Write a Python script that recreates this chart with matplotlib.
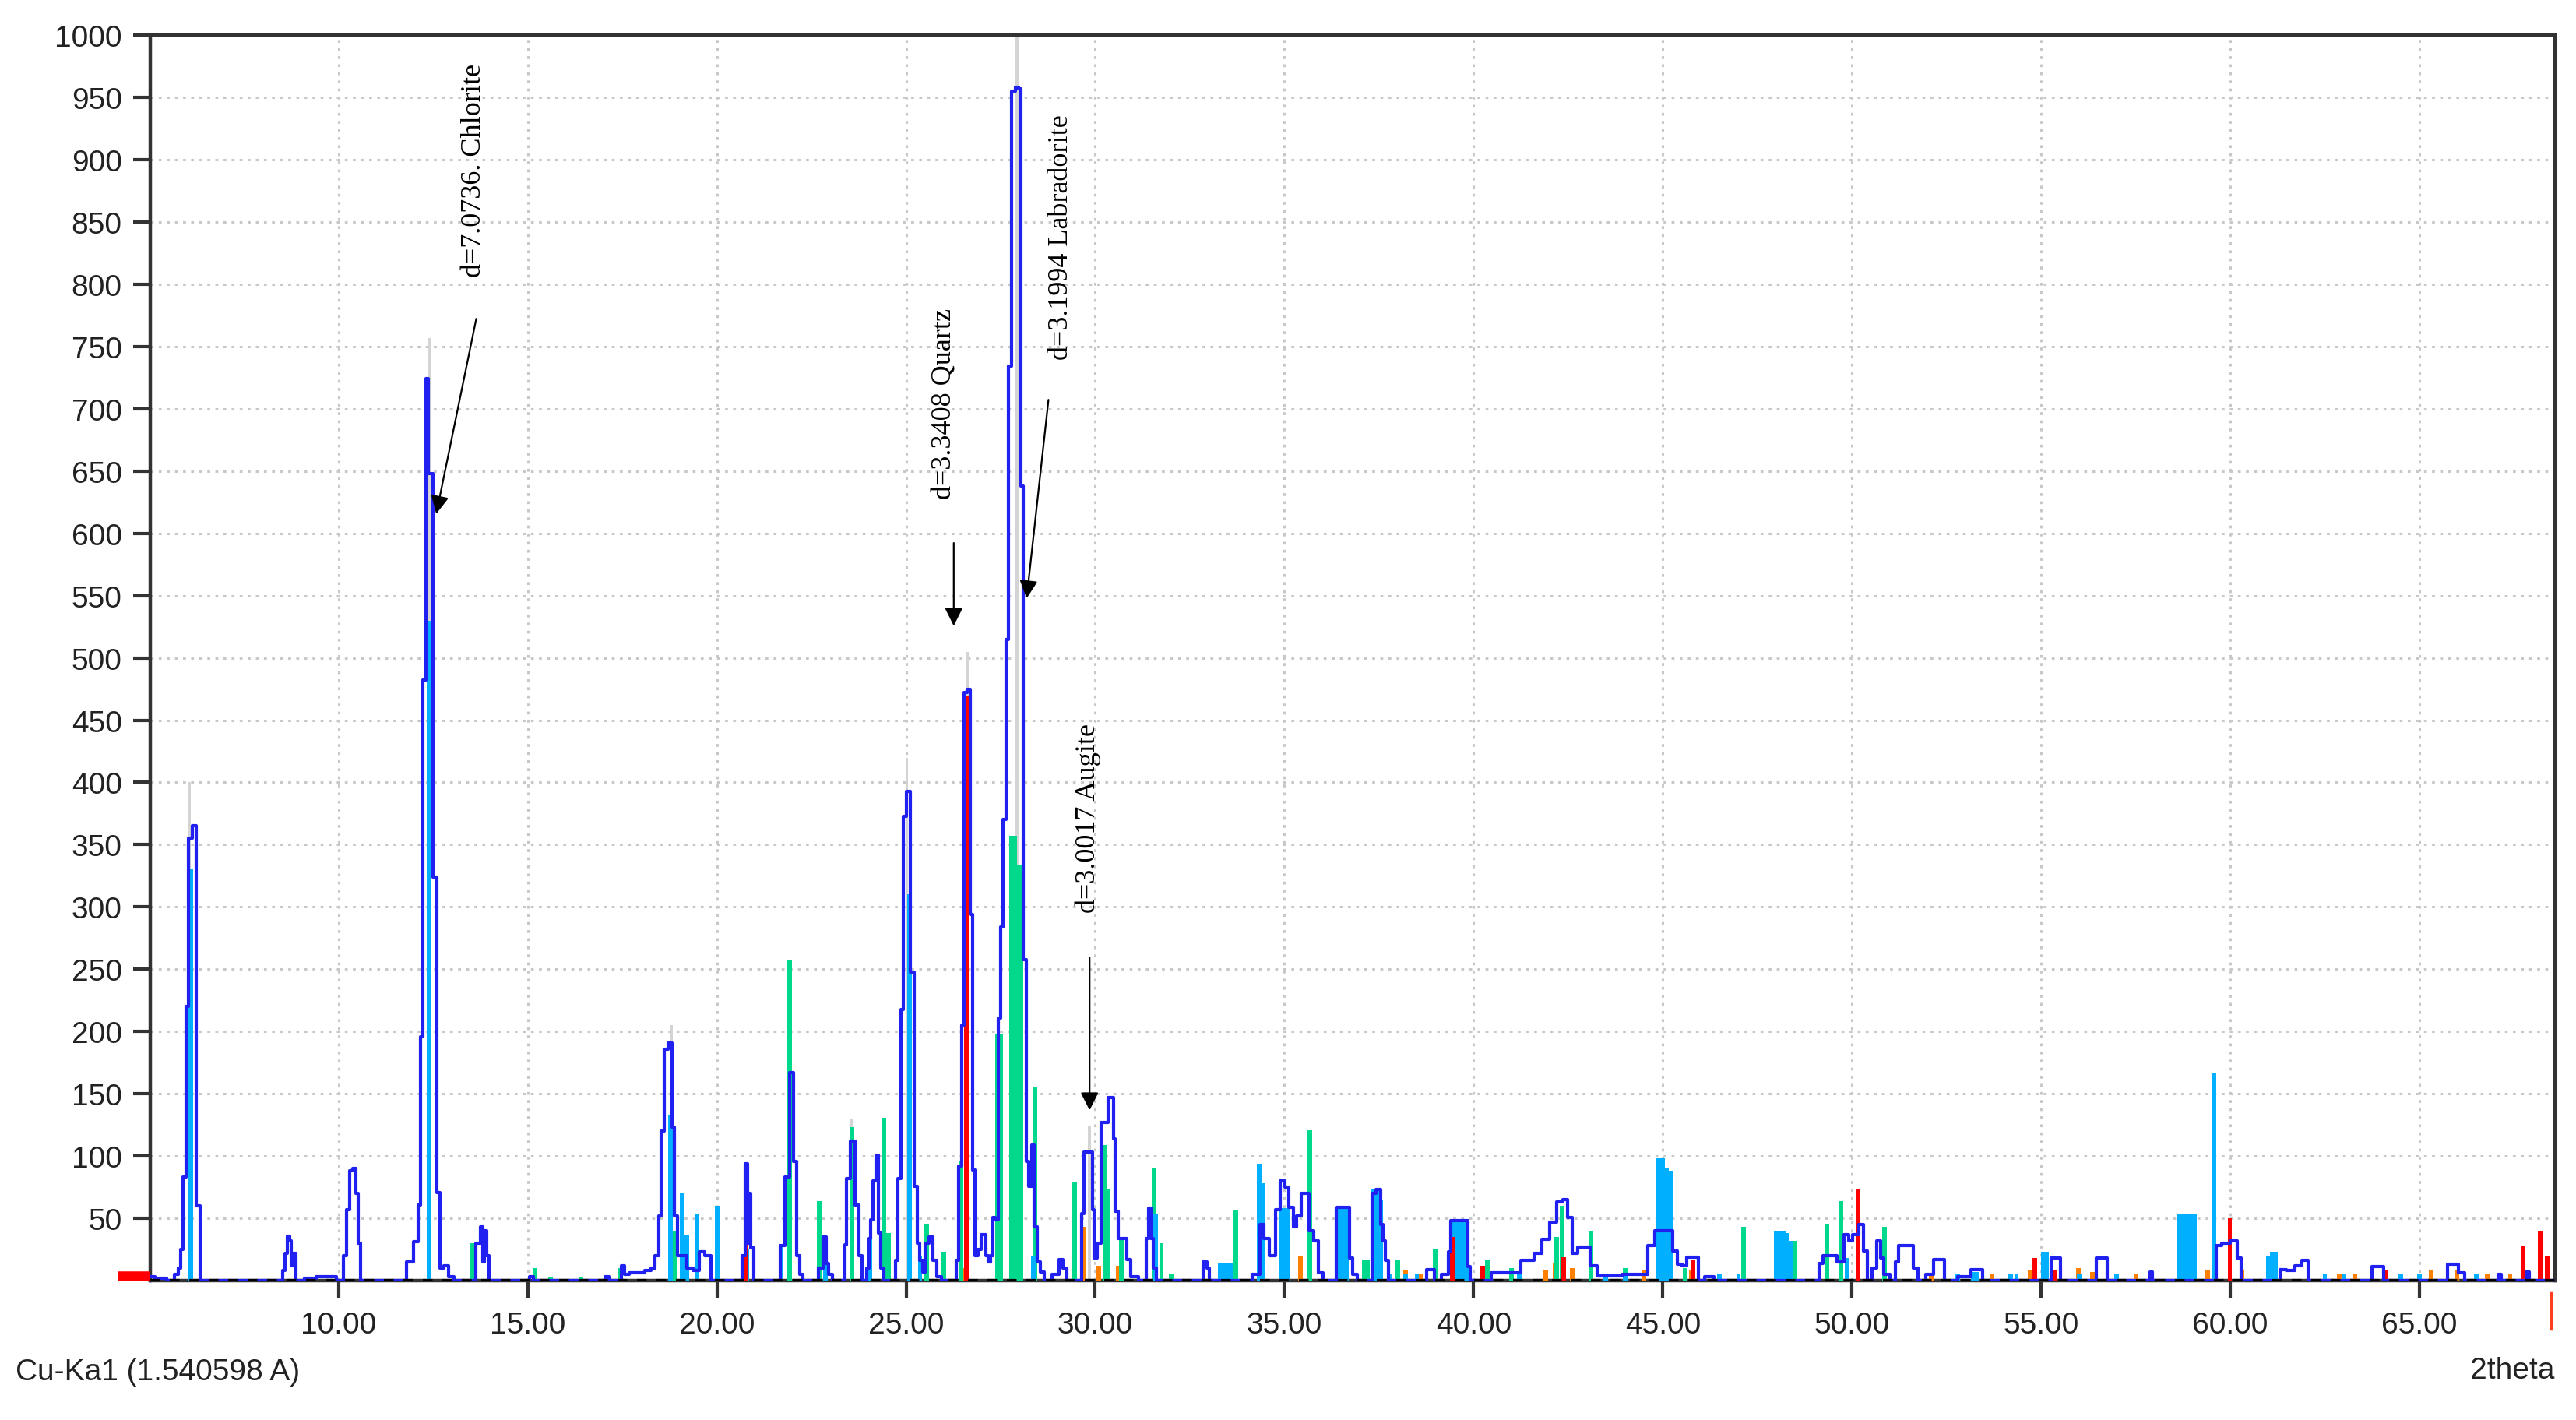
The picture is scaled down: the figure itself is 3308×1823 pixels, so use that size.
import numpy as np
import matplotlib
matplotlib.use('Agg')
import matplotlib.pyplot as plt

# measured pattern (blue step line)
tt_meas = [5.0, 5.3, 5.6, 5.72, 5.8, 5.86, 5.93, 6.0, 6.06, 6.2, 6.29, 6.37,
           7.5, 8.5, 8.56, 8.62, 8.68, 8.73, 8.78, 8.84, 8.9,
           9.3, 9.5, 9.8, 10.1, 10.16, 10.27, 10.33, 10.43, 10.49, 10.54, 10.62,
           11.7, 11.89, 12.06, 12.13, 12.2, 12.27, 12.33, 12.43, 12.55, 12.64, 12.72, 12.85, 12.98, 13.1,
           13.6, 13.66, 13.74, 13.78, 13.83, 13.88, 13.95, 14.02,
           15.0, 15.1, 15.2, 17.0, 17.1, 17.2,
           17.45, 17.52, 17.6, 17.75, 18.0, 18.2, 18.3, 18.42, 18.51, 18.56, 18.64, 18.78, 18.83,
           18.91, 18.99, 19.1, 19.3, 19.45, 19.6, 19.75, 19.95,
           20.6, 20.72, 20.78, 20.82, 20.86, 20.93, 21.0,
           21.6, 21.75, 21.84, 22.0, 22.06, 22.14, 22.24, 22.3,
           22.6, 22.75, 22.85, 22.92, 23.0, 23.1,
           23.35, 23.4, 23.45, 23.6, 23.72, 23.79, 23.9,
           24.0, 24.04, 24.1, 24.16, 24.24, 24.3, 24.36, 24.45,
           24.7, 24.75, 24.82, 24.89, 24.97, 25.06, 25.16, 25.27, 25.33, 25.4, 25.47, 25.54, 25.68, 25.75, 25.88, 26.0,
           26.3, 26.36, 26.43, 26.49, 26.57, 26.66, 26.72, 26.79, 26.86, 26.95, 27.0, 27.08, 27.14, 27.2, 27.27,
           27.33, 27.4, 27.46, 27.53, 27.6, 27.67, 27.74, 27.84, 27.93, 28.01, 28.05, 28.15, 28.22, 28.28,
           28.36, 28.42, 28.5, 28.59, 28.7,
           29.0, 29.1, 29.2, 29.3,
           29.6, 29.66, 29.76, 29.91, 29.95, 30.0, 30.1, 30.22, 30.3, 30.38, 30.46, 30.5, 30.56, 30.65, 30.79, 30.89, 31.0,
           31.3, 31.38, 31.45, 31.5, 31.55, 31.7,
           32.8, 32.9, 33.0, 33.05,
           34.0, 34.3, 34.4, 34.5, 34.72, 34.82, 34.97, 35.07, 35.18, 35.28, 35.38, 35.52, 35.62, 35.7, 35.85, 35.95, 36.1,
           36.35, 36.4, 36.7, 36.75, 36.85, 37.0,
           37.3, 37.35, 37.5, 37.58, 37.62, 37.7, 37.8,
           38.7, 38.8, 38.94, 39.0,
           39.3, 39.35, 39.45, 39.83, 39.87, 39.95,
           41.0, 41.5, 41.7, 41.9, 42.1, 42.29, 42.44, 42.53, 42.68, 42.83, 42.98, 43.17, 43.35, 44.5,
           44.71, 44.85, 45.2, 45.34, 45.45, 45.55, 45.7, 45.88, 46.0, 46.2, 46.5,
           49.1, 49.18, 49.3, 49.5, 49.7, 49.87, 49.95, 50.1, 50.26, 50.35, 50.45,
           50.6, 50.71, 50.8, 50.9, 51.1, 51.2, 51.26, 51.55, 51.7, 51.8,
           52.1, 52.2, 52.4, 52.5,
           53.1, 53.2, 53.4, 53.5,
           55.25, 55.3, 55.46, 55.55,
           56.4, 56.5, 56.7, 56.8,
           57.85, 57.9, 58.0,
           59.6, 59.66, 59.87, 60.13, 60.23, 60.35,
           61.3, 61.35, 61.6, 61.8, 62.0, 62.1,
           63.7, 63.8, 64.0, 64.1,
           65.7, 65.8, 65.95, 66.1, 66.3,
           67.05, 67.12, 67.2,
           67.8, 67.86, 67.95, 68.6]
i_meas = [3, 2, 0, 5, 10, 25, 83, 220, 355, 365, 60, 0,
          0, 0, 8, 22, 36, 32, 12, 22, 0,
          2, 3, 3, 0, 20, 57, 88, 90, 70, 30, 0,
          0, 15, 31, 61, 196, 482, 724, 648, 324, 71, 10, 12, 3, 0,
          0, 30, 30, 43, 15, 40, 20, 0,
          0, 3, 0, 0, 3, 0,
          0, 12, 5, 6, 6, 8, 10, 20, 52, 120, 186, 191, 123,
          52, 20, 20, 10, 8, 23, 20, 0,
          0, 20, 94, 30, 70, 26, 0,
          0, 28, 83, 167, 96, 20, 5, 0,
          0, 10, 35, 14, 5, 0,
          0, 29, 82, 112, 61, 20, 0,
          10, 34, 49, 80, 101, 38, 10, 0,
          0, 16, 82, 218, 373, 393, 248, 76, 30, 16, 7, 30, 35, 16, 3, 0,
          0, 16, 92, 205, 472, 475, 294, 89, 20, 25, 37, 37, 20, 15, 20,
          51, 49, 211, 284, 370, 515, 734, 955, 958, 957, 638, 258, 96, 76,
          109, 43, 15, 7, 0,
          5, 17, 10, 0,
          0, 54, 103, 103, 57, 18, 30, 127, 127, 147, 147, 114, 56, 34, 34, 17, 3,
          0, 34, 58, 34, 10, 0,
          0, 15, 10, 0,
          0, 5, 45, 34, 20, 57, 80, 75, 59, 43, 52, 70, 70, 40, 32, 6, 0,
          0, 59, 59, 18, 5, 0,
          0, 70, 73, 45, 32, 16, 0,
          0, 9, 9, 0,
          5, 23, 48, 48, 11, 0,
          6, 16, 22, 33, 47, 63, 65, 51, 22, 27, 27, 12, 4, 5,
          28, 40, 40, 24, 13, 12, 19, 19, 0, 3, 0,
          0, 14, 20, 20, 15, 37, 32, 37, 45, 24, 0,
          10, 32, 18, 5, 0, 15, 28, 28, 10, 0,
          5, 17, 17, 0,
          3, 9, 9, 0,
          0, 18, 18, 0,
          0, 18, 18, 0,
          0, 7, 0,
          0, 28, 30, 32, 18, 0,
          0, 9, 8, 12, 16, 0,
          0, 11, 11, 0,
          0, 13, 13, 6, 0,
          0, 5, 0,
          0, 7, 0, 0]

# raw peak tops (light grey)
tt_raw = [6.06, 12.40, 18.80, 23.55, 25.02, 26.62, 27.93, 29.85]
i_raw = [400, 757, 205, 130, 420, 505, 1000, 124]

# reference phases (stick patterns)
tt_cyan = [6.1, 12.38, 18.77, 19.08, 19.2, 19.47, 20.0, 20.8, 21.7, 22.86, 24.04, 25.09, 25.37,
           28.36, 31.6, 33.3, 33.4, 33.5, 33.6, 34.33, 34.43, 34.9, 35.0, 35.07,
           36.45, 36.55, 36.65, 37.35, 37.45, 37.55, 37.8, 38.2, 38.5,
           39.5, 39.6, 39.7, 39.8, 41.2, 43.5, 44.0, 44.9, 45.0, 45.1, 45.2, 46.5, 47.0,
           48.0, 48.1, 48.2, 48.3, 48.4, 49.87, 52.8, 53.2, 53.3, 54.2, 54.35,
           55.05, 55.15, 56.0, 57.0, 58.65, 58.75, 58.85, 58.95, 59.05, 59.56,
           61.0, 61.1, 61.2, 62.5, 63.0, 64.5, 65.0, 66.5]
i_cyan = [330, 530, 133, 70, 37, 53, 60, 25, 28, 34, 34, 310, 20,
          20, 53, 14, 14, 14, 14, 94, 78, 58, 58, 58,
          60, 60, 60, 73, 73, 65, 5, 5, 5,
          48, 48, 48, 48, 5, 5, 5, 98, 98, 90, 88, 5, 5,
          40, 40, 40, 38, 32, 18, 5, 7, 7, 5, 5,
          23, 23, 5, 5, 53, 53, 53, 53, 53, 167,
          20, 23, 23, 5, 5, 5, 5, 5]

tt_green = [13.55, 15.2, 15.6, 16.4, 17.45, 18.9, 21.92, 22.71, 23.57, 24.41, 24.53, 25.54, 25.99,
            26.45, 27.42, 27.5, 27.78, 27.88, 27.96, 28.03, 28.4, 29.45, 30.25, 30.33, 30.69,
            31.56, 31.75, 32.0, 33.72, 35.67, 37.1, 37.2, 38.0, 38.99, 40.37, 41.0, 42.2, 42.34,
            43.1, 44.0, 45.6, 47.14, 48.49, 49.34, 49.7, 50.86]
i_green = [30, 10, 3, 3, 10, 40, 258, 64, 123, 131, 38, 46, 23,
           96, 198, 198, 357, 357, 334, 334, 155, 79, 109, 73, 34,
           91, 30, 5, 57, 121, 16, 16, 16, 25, 16, 10, 35, 60,
           40, 10, 10, 43, 32, 46, 64, 43]

tt_red = [20.78, 26.6, 39.44, 40.24, 42.38, 45.8, 50.16, 54.84, 55.38, 59.99, 64.11, 67.75, 68.2, 68.38]
i_red = [73, 470, 35, 12, 19, 16, 73, 18, 9, 50, 9, 28, 40, 20]

tt_orange = [13.56, 20.0, 26.55, 27.44, 29.70, 30.1, 30.6, 35.43, 38.2, 38.6, 41.9, 42.15, 42.6,
             44.5, 45.75, 52.1, 53.7, 54.7, 55.98, 56.35, 57.5, 59.4, 60.3, 62.88, 63.3,
             64.5, 65.3, 66.0, 66.8, 67.4]
i_orange = [5, 5, 10, 11, 43, 12, 12, 20, 8, 5, 9, 14, 10,
            8, 8, 5, 5, 8, 10, 7, 5, 8, 8, 5, 5,
            5, 9, 8, 5, 5]

# annotations: text, text x, text bottom y, arrow start, arrow tip
notes = ['d=7.0736. Chlorite', 'd=3.3408 Quartz', 'd=3.1994 Labradorite', 'd=3.0017 Augite']
note_x = [13.58, 26.02, 29.10, 29.80]
note_y = [806, 628, 740, 296]
arrow_from = [(13.65, 774), (26.26, 594), (28.77, 709), (29.85, 261)]
arrow_to = [(12.57, 614), (26.26, 524), (28.18, 546), (29.85, 135)]

xticks = np.arange(10, 66, 5)
yticks = np.arange(50, 1001, 50)

fig = plt.figure(figsize=(33.08, 18.24), dpi=100)
ax = fig.add_axes([0.0583, 0.0981, 0.9335, 0.8766])

w = 0.12
ax.bar(tt_raw, i_raw, width=0.08, color='#d4d4d4', zorder=2)
ax.bar(tt_orange, i_orange, width=w, color='#ff8000', zorder=3)
ax.bar(tt_green, i_green, width=w, color='#00d98b', zorder=3)
ax.bar(tt_cyan, i_cyan, width=w, color='#00b0ff', zorder=3)
ax.bar(tt_red, i_red, width=w, color='#ff0000', zorder=4)
ax.plot(tt_meas, i_meas, drawstyle='steps-mid', color='#2020f0', lw=3.0, zorder=5)
ax.axhline(0, color='k', lw=3, ls=(0, (3, 3)), zorder=6)

# red markers outside the frame
ax.plot([4.15, 5.0], [4, 4], color='#ff0000', lw=9, clip_on=False, zorder=7, solid_capstyle='butt')
ax.plot([68.47, 68.47], [-10, -39], color='#ff4020', lw=2.5, clip_on=False, zorder=7)

for t, x, y in zip(notes, note_x, note_y):
    ax.text(x, y, t, rotation=90, ha='center', va='bottom', fontsize=26,
            family='Liberation Serif', color='k', zorder=8)
for a, b in zip(arrow_from, arrow_to):
    ax.annotate('', xy=b, xytext=a, zorder=8,
                arrowprops=dict(arrowstyle='-|>', color='k', lw=1.6, mutation_scale=35))

ax.set_xlim(5.02, 68.58)
ax.set_ylim(0, 1000)
ax.set_xticks(xticks)
ax.set_xticklabels(['%.2f' % v for v in xticks])
ax.set_yticks(yticks)
ax.set_yticklabels(['%d' % v for v in yticks])
ax.grid(True, color='#c8c8c8', ls=(0, (1.2, 2.2)), lw=2.2)
ax.set_axisbelow(True)
ax.tick_params(axis='both', direction='out', length=16, width=3, color='#333333',
               labelsize=28, labelcolor='#222222')
ax.tick_params(axis='y', pad=10)
ax.tick_params(axis='x', pad=12)
for lab in ax.get_xticklabels() + ax.get_yticklabels():
    lab.set_family('Liberation Sans')
for s in ax.spines.values():
    s.set_color('#333333')
    s.set_linewidth(3.2)

fig.text(0.006, 0.034, 'Cu-Ka1 (1.540598 A)', fontsize=28, family='Liberation Sans',
         color='#222222', va='center')
fig.text(0.9915, 0.035, '2theta', fontsize=28, family='Liberation Sans',
         color='#222222', va='center', ha='right')

fig.savefig('out.png', dpi=100, facecolor='white')
